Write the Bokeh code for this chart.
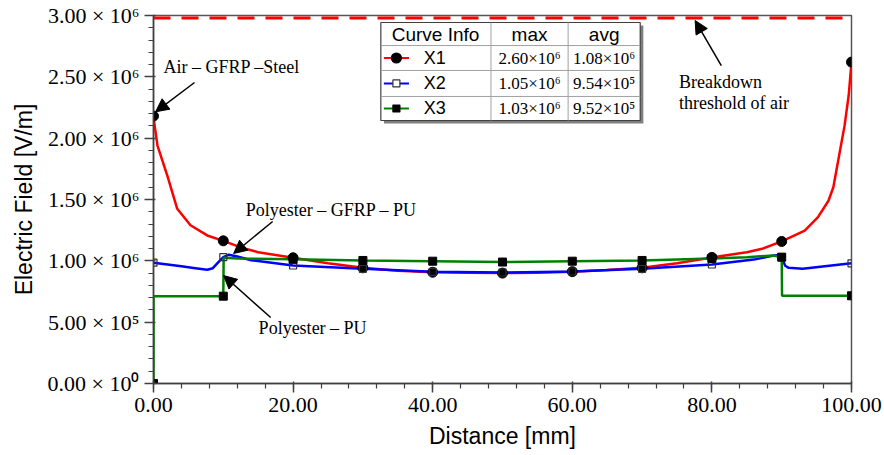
from bokeh.plotting import figure
from bokeh.models import Range1d, FixedTicker, Arrow, NormalHead, Label
from bokeh.embed import file_html
from bokeh.resources import INLINE

# ---------------- data ----------------
x1 = [0, 0.57, 2.0, 3.4, 5.3, 7.7, 10, 12.5, 15, 20, 25, 30, 35, 40, 45, 50, 55, 60, 65, 70,
      75, 80, 85, 87.2, 90, 93.3, 95.2, 96.7, 97.4, 98.2, 99.0, 99.6, 100]
y1 = [2.17e6, 1.94e6, 1.69e6, 1.424e6, 1.29e6, 1.207e6, 1.163e6, 1.11e6, 1.07e6, 1.025e6, 0.98e6,
      0.943e6, 0.92e6, 0.907e6, 0.902e6, 0.90e6, 0.903e6, 0.912e6, 0.925e6, 0.943e6, 0.98e6,
      1.028e6, 1.07e6, 1.098e6, 1.158e6, 1.247e6, 1.356e6, 1.49e6, 1.60e6, 1.85e6, 2.10e6, 2.35e6, 2.62e6]

x2 = [0, 2, 4, 6, 7.7, 8.5, 9.3, 10, 10.8, 12, 14, 20, 30, 40, 50, 60, 70, 80, 86, 88.5, 89.3,
      90, 90.5, 91, 93, 100]
y2 = [0.985e6, 0.97e6, 0.955e6, 0.94e6, 0.927e6, 0.94e6, 0.99e6, 1.03e6, 1.05e6, 1.035e6, 1.005e6,
      0.962e6, 0.935e6, 0.91e6, 0.905e6, 0.913e6, 0.935e6, 0.97e6, 1.01e6, 1.04e6, 1.045e6,
      1.03e6, 0.96e6, 0.943e6, 0.935e6, 0.98e6]

x3 = [0, 0, 10, 10.05, 12, 14, 20, 30, 40, 50, 60, 70, 80, 85, 88.8, 90, 90.05, 100]
y3 = [0, 0.712e6, 0.712e6, 1.025e6, 1.02e6, 1.017e6, 1.012e6, 1.003e6, 0.997e6, 0.99e6, 0.997e6,
      1.003e6, 1.02e6, 1.03e6, 1.043e6, 1.03e6, 0.715e6, 0.715e6]

mx = [0, 10, 20, 30, 40, 50, 60, 70, 80, 90, 100]
m1 = [2.18e6, 1.163e6, 1.025e6, 0.943e6, 0.907e6, 0.90e6, 0.912e6, 0.943e6, 1.028e6, 1.158e6, 2.62e6]
m2 = [0.985e6, 1.03e6, 0.962e6, 0.935e6, 0.91e6, 0.905e6, 0.913e6, 0.935e6, 0.97e6, 1.03e6, 0.98e6]
m3 = [0, 0.712e6, 1.012e6, 1.003e6, 0.997e6, 0.99e6, 0.997e6, 1.003e6, 1.02e6, 1.03e6, 0.715e6]

breakdown = 2.98e6

x_ticks = [0, 20, 40, 60, 80, 100]
x_tick_labels = ["0.00", "20.00", "40.00", "60.00", "80.00", "100.00"]
y_ticks = [0, 500000, 1000000, 1500000, 2000000, 2500000, 3000000]
y_tick_labels = ["0.00 × 10⁰", "5.00 × 10⁵", "1.00 × 10⁶", "1.50 × 10⁶", "2.00 × 10⁶",
                 "2.50 × 10⁶", "3.00 × 10⁶"]

names = ["X1", "X2", "X3"]
max_labels = ["2.60×10⁶", "1.05×10⁶", "1.03×10⁶"]
avg_labels = ["1.08×10⁶", "9.54×10⁵", "9.52×10⁵"]
colors = ["#ff0000", "#0000ff", "#008000"]

SERIF = "Liberation Serif"
SANS = "Liberation Sans"

# ---------------- figure ----------------
p = figure(width=884, height=455, output_backend="svg", toolbar_location=None,
           x_range=Range1d(0, 100), y_range=Range1d(0, 3e6),
           min_border_left=153, min_border_right=33, min_border_top=15, min_border_bottom=72)
p.grid.visible = False
p.outline_line_color = "#555555"
p.outline_line_width = 1.5
p.background_fill_color = "white"

p.xaxis.ticker = FixedTicker(ticks=x_ticks, minor_ticks=list(range(0, 101, 4)))
p.yaxis.ticker = FixedTicker(ticks=y_ticks, minor_ticks=list(range(0, 3000001, 100000)))
p.xaxis.major_label_overrides = dict(zip(x_ticks, x_tick_labels))
p.yaxis.major_label_overrides = dict(zip(y_ticks, y_tick_labels))

for ax in (p.xaxis[0], p.yaxis[0]):
    ax.axis_line_color = "#404040"
    ax.axis_line_width = 1.5
    ax.major_tick_line_color = "#404040"
    ax.minor_tick_line_color = "#404040"
    ax.major_tick_line_width = 1.5
    ax.minor_tick_line_width = 1.2
    ax.major_tick_out = 9
    ax.major_tick_in = 2
    ax.minor_tick_out = 5
    ax.minor_tick_in = 0
    ax.major_label_text_font = SERIF
    ax.major_label_text_font_size = "22px"
    ax.major_label_text_color = "black"
    ax.axis_label_text_font = SANS
    ax.axis_label_text_font_size = "23px"
    ax.axis_label_text_font_style = "normal"
    ax.axis_label_text_color = "black"
    ax.major_label_standoff = 5
p.xaxis.axis_label = "Distance [mm]"
p.yaxis.axis_label = "Electric Field [V/m]"
p.xaxis.axis_label_standoff = 8
p.yaxis.axis_label_standoff = 8

# breakdown threshold
p.line([0, 100], [breakdown, breakdown], line_color="#ff0000", line_width=3, line_dash="17 11")

# curves
p.line(x1, y1, line_color=colors[0], line_width=2.5)
p.line(x2, y2, line_color=colors[1], line_width=2.5)
p.line(x3, y3, line_color=colors[2], line_width=2.5)

p.scatter(mx, m1, marker="circle", size=10, fill_color="black", line_color="black")
p.scatter(mx, m2, marker="square", size=7, fill_color=None, line_color="#333333", line_width=1.2)
p.scatter(mx, m3, marker="square", size=8, fill_color="black", line_color="black")

# ---------------- annotations ----------------
def add_arrow(xs, ys, xe, ye):
    p.add_layout(Arrow(end=NormalHead(size=13, fill_color="black", line_color="black"),
                       x_start=xs, y_start=ys, x_end=xe, y_end=ye,
                       line_color="black", line_width=1.5))

def add_text(x, y, t, font=SERIF, size="18px", align="left"):
    p.add_layout(Label(x=x, y=y, text=t, text_font=font, text_font_size=size,
                       text_align=align, text_baseline="middle", text_color="black"))

add_text(1.43, 2.584e6, "Air – GFRP –Steel")
add_arrow(5.88, 2.454e6, 0.3, 2.215e6)
add_text(13.2, 1.418e6, "Polyester – GFRP – PU")
add_arrow(17.07, 1.321e6, 11.48, 1.06e6)
add_text(15.06, 0.4565e6, "Polyester – PU")
add_arrow(16.79, 0.538e6, 10.04, 0.88e6)
add_text(75.3, 2.454e6, "Breakdown")
add_text(75.3, 2.283e6, "threshold of air")
add_arrow(81.35, 2.592e6, 77.6, 2.959e6)

# ---------------- table (curve info) ----------------
tl, tr = 32.57, 69.73
c1, c2 = 48.35, 59.40
rows = [2.943e6, 2.755e6, 2.552e6, 2.340e6, 2.144e6]
dx, dy = 0.45, 0.025e6
p.quad(left=tl + dx, right=tr + dx, top=rows[0] - dy, bottom=rows[-1] - dy,
       fill_color="#7f7f7f", line_color=None)
p.quad(left=tl, right=tr, top=rows[0], bottom=rows[-1], fill_color="white",
       line_color="#404040", line_width=1.2)
p.segment(x0=[tl] * 3, y0=rows[1:4], x1=[tr] * 3, y1=rows[1:4], line_color="#a0a0a0", line_width=1)
p.segment(x0=[c1, c2], y0=[rows[0]] * 2, x1=[c1, c2], y1=[rows[-1]] * 2,
          line_color="#a0a0a0", line_width=1)

hy = (rows[0] + rows[1]) / 2
add_text(40.4, hy, "Curve Info", font=SANS, size="19px", align="center")
add_text((c1 + c2) / 2, hy, "max", font=SANS, size="19px", align="center")
add_text((c2 + tr) / 2, hy, "avg", font=SANS, size="19px", align="center")

markers = [("circle", 10, "black", "black"), ("square", 7, "white", "#333333"),
           ("square", 7, "black", "black")]
for i in range(3):
    ry = (rows[i + 1] + rows[i + 2]) / 2
    p.line([33.0, 36.6], [ry, ry], line_color=colors[i], line_width=2)
    mk, sz, fc, lc = markers[i]
    p.scatter([34.8], [ry], marker=mk, size=sz, fill_color=fc, line_color=lc, line_width=1.2)
    add_text(38.7, ry, names[i], font=SANS, size="18px")
    add_text((c1 + c2) / 2, ry, max_labels[i], font=SERIF, size="17px", align="center")
    add_text((c2 + tr) / 2, ry, avg_labels[i], font=SERIF, size="17px", align="center")

open("out.html", "w").write(file_html(p, INLINE))
